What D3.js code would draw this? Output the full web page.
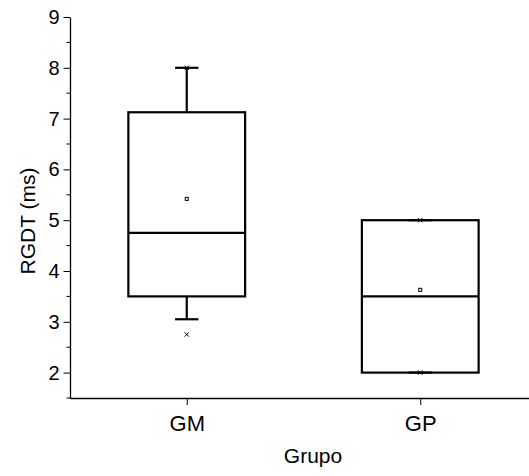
<!DOCTYPE html>
<html>
<head>
<meta charset="utf-8">
<script src="https://cdn.jsdelivr.net/npm/d3@7"></script>
<style>
  html, body { margin: 0; padding: 0; background: #fff; }
  svg { display: block; font-family: "Liberation Sans", Arial, sans-serif; }
</style>
</head>
<body>
<svg id="chart" width="529" height="476"></svg>
<script>
// box plot stats
var groups = ['GM', 'GP'];
var q1 = [3.5, 2.0];
var median = [4.75, 3.5];
var q3 = [7.125, 5.0];
var whiskerLow = [3.05, 2.0];
var whiskerHigh = [8.0, 5.0];
var mean = [5.42, 3.63];
var minVal = [2.75, 2.0];
var maxVal = [8.0, 5.0];
var yTicks = [2, 3, 4, 5, 6, 7, 8, 9];

var svg = d3.select('#chart');
var plotLeft = 70, plotTop = 17, plotBottom = 398;

var x = d3.scaleLinear().domain([0.5, 2.5]).range([plotLeft, 537]);
var y = d3.scaleLinear().domain([1.5, 9]).range([plotBottom, plotTop]);

var boxW = x(1.25) - x(0.75);
var capW = x(1.05) - x(0.95);

// axes
var yAxis = d3.axisLeft(y).tickValues(yTicks).tickSize(6.5).tickSizeOuter(0).tickPadding(4);
var gy = svg.append('g').attr('transform', 'translate(' + plotLeft + ',0)').call(yAxis);
gy.selectAll('text').attr('font-size', 20).attr('fill', '#000');
gy.append('g').selectAll('line')
    .data(d3.range(1.5, 9, 1))
    .join('line')
    .attr('x1', -3.5).attr('x2', 0)
    .attr('y1', function(d) { return y(d); })
    .attr('y2', function(d) { return y(d); })
    .attr('stroke', '#000');

var xAxis = d3.axisBottom(x).tickValues([1, 2]).tickFormat(function(d) { return groups[d - 1]; })
    .tickSize(7).tickSizeOuter(0).tickPadding(10);
var gx = svg.append('g').attr('transform', 'translate(0,' + plotBottom + ')').call(xAxis);
gx.selectAll('text').attr('font-size', 22).attr('fill', '#000');
svg.selectAll('.domain').attr('stroke', '#000').attr('stroke-width', 1.3);
svg.selectAll('.tick line').attr('stroke', '#000');

svg.append('text')
    .attr('transform', 'translate(35,221) rotate(-90)')
    .attr('text-anchor', 'middle')
    .attr('font-size', 21)
    .text('RGDT (ms)');

svg.append('text')
    .attr('x', 313).attr('y', 463)
    .attr('text-anchor', 'middle')
    .attr('font-size', 21)
    .text('Grupo');

// boxes
var boxes = svg.append('g').selectAll('g')
    .data(groups)
    .join('g');

boxes.each(function(d, i) {
    var g = d3.select(this);
    var cx = x(i + 1);
    g.append('line')
        .attr('x1', cx).attr('x2', cx)
        .attr('y1', y(q3[i])).attr('y2', y(whiskerHigh[i]))
        .attr('stroke', '#000').attr('stroke-width', 2.2);
    g.append('line')
        .attr('x1', cx).attr('x2', cx)
        .attr('y1', y(q1[i])).attr('y2', y(whiskerLow[i]))
        .attr('stroke', '#000').attr('stroke-width', 2.2);
    [whiskerHigh[i], whiskerLow[i]].forEach(function(v) {
        g.append('line')
            .attr('x1', cx - capW / 2).attr('x2', cx + capW / 2)
            .attr('y1', y(v)).attr('y2', y(v))
            .attr('stroke', '#000').attr('stroke-width', 2.2);
    });
    g.append('rect')
        .attr('x', cx - boxW / 2).attr('y', y(q3[i]))
        .attr('width', boxW).attr('height', y(q1[i]) - y(q3[i]))
        .attr('fill', 'none').attr('stroke', '#000').attr('stroke-width', 2.2);
    g.append('line')
        .attr('x1', cx - boxW / 2).attr('x2', cx + boxW / 2)
        .attr('y1', y(median[i])).attr('y2', y(median[i]))
        .attr('stroke', '#000').attr('stroke-width', 2.2);
    // mean
    g.append('rect')
        .attr('x', cx - 1.5).attr('y', y(mean[i]) - 1.5)
        .attr('width', 3).attr('height', 3)
        .attr('fill', '#fff').attr('stroke', '#000').attr('stroke-width', 1);
    // min / max crosses
    [minVal[i], maxVal[i]].forEach(function(v) {
        g.append('path')
            .attr('d', d3.symbol(d3.symbolX, 14)())
            .attr('transform', 'translate(' + cx + ',' + y(v) + ')')
            .attr('fill', 'none').attr('stroke', '#000').attr('stroke-width', 1);
    });
});
</script>
</body>
</html>
